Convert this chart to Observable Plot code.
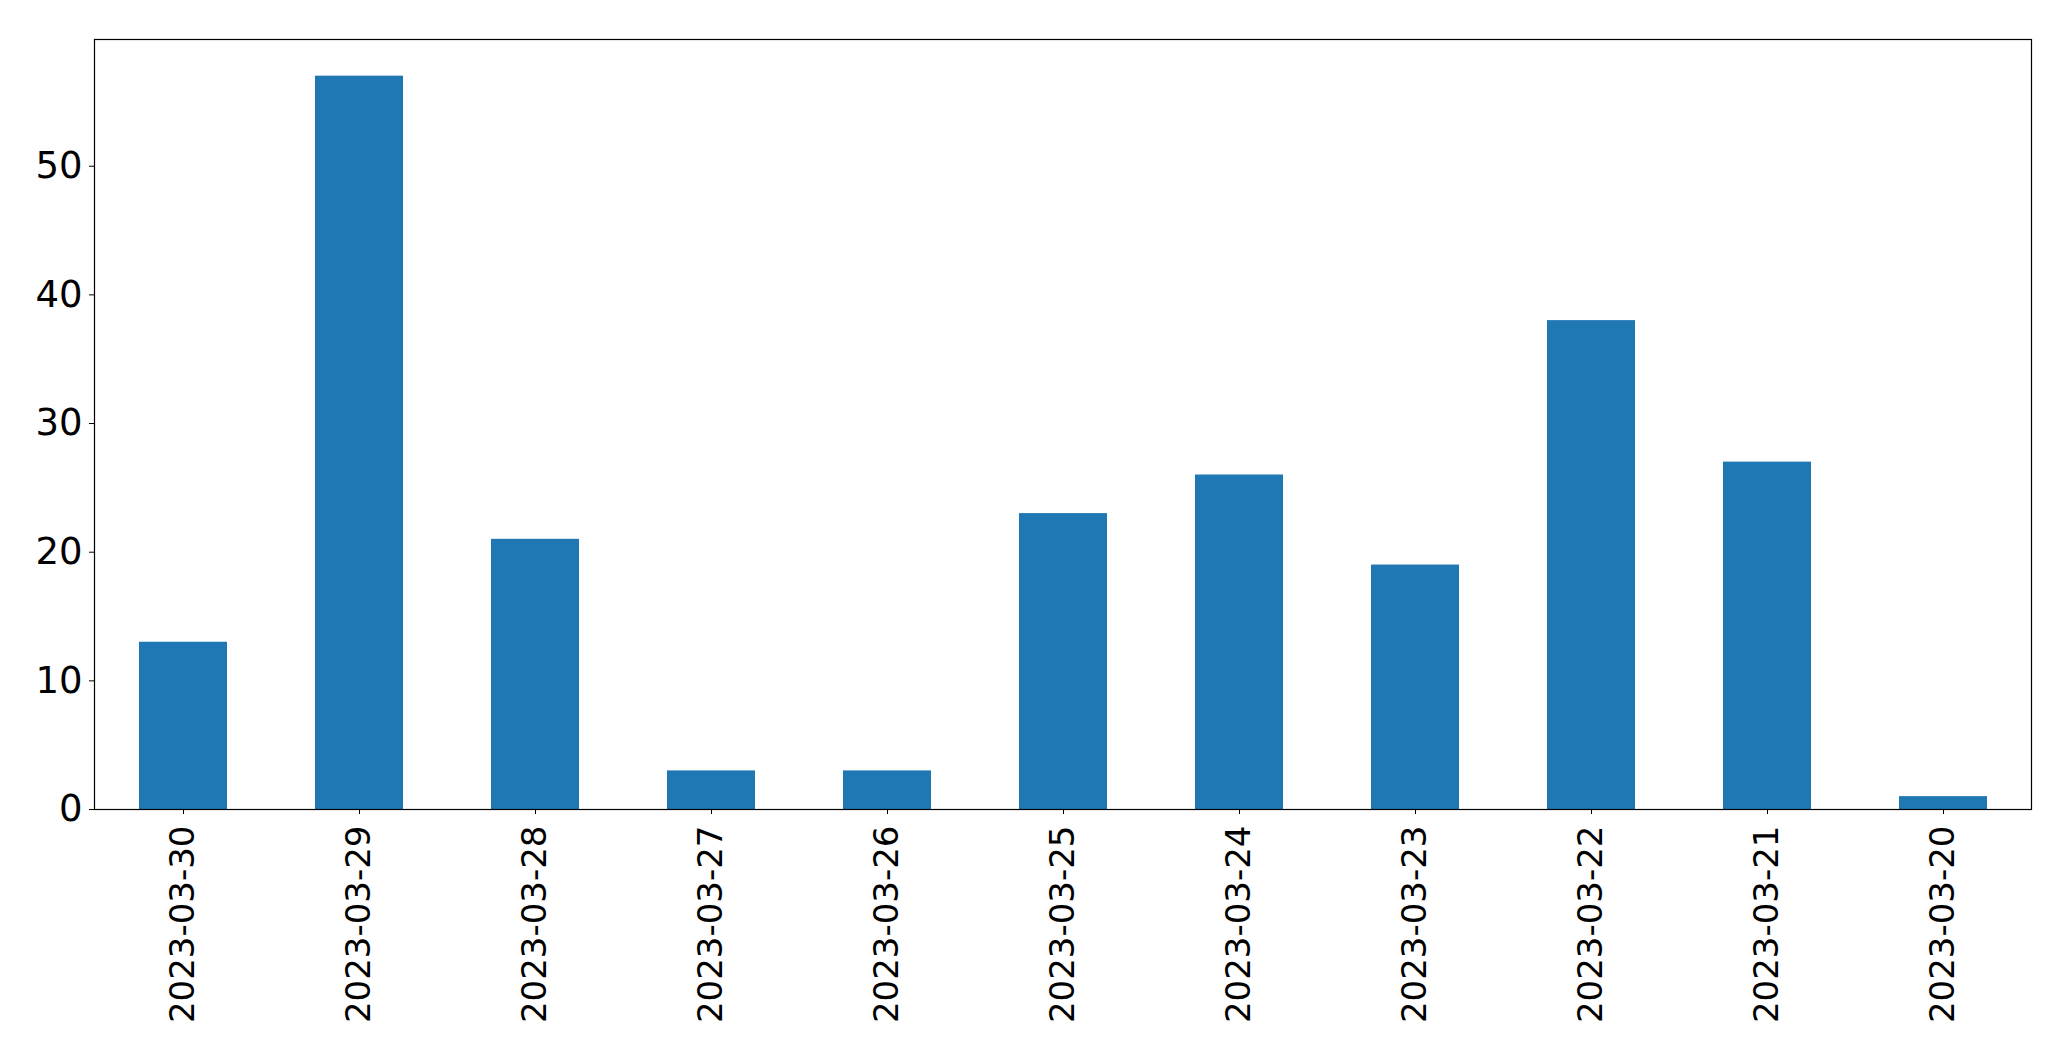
<!DOCTYPE html>
<html>
<head>
<meta charset="utf-8">
<script src="https://cdn.jsdelivr.net/npm/d3@7"></script>
<script src="https://cdn.jsdelivr.net/npm/@observablehq/plot@0.6"></script>
<style>
html, body { margin: 0; padding: 0; background: #fff; }
#chart svg { display: block; }
</style>
</head>
<body>
<div id="chart"></div>
<script>
const dates = ["2023-03-30","2023-03-29","2023-03-28","2023-03-27","2023-03-26","2023-03-25","2023-03-24","2023-03-23","2023-03-22","2023-03-21","2023-03-20"];
const counts = [13, 57, 21, 3, 3, 23, 26, 19, 38, 27, 1];
const yTicks = [0, 10, 20, 30, 40, 50];

const data = dates.map((d, i) => ({date: d, count: counts[i]}));

const chart = Plot.plot({
  width: 2071,
  height: 1061,
  marginLeft: 94,
  marginRight: 40,
  marginTop: 39,
  marginBottom: 252,
  style: {fontFamily: "DejaVu Sans", fontSize: "34px", color: "#000", background: "#fff"},
  x: {domain: dates, paddingInner: 0.5, paddingOuter: 0.25, label: null},
  y: {domain: [0, 59.85], label: null},
  marks: [
    Plot.barY(data, {x: "date", y: "count", fill: "#1f77b4"}),
    Plot.axisY({ticks: yTicks, tickSize: 5, tickPadding: 7, fontSize: 37, label: null}),
    Plot.axisX({tickSize: 5, tickPadding: 11, tickRotate: -90, fontSize: 34, label: null}),
    Plot.frame({stroke: "#000", strokeWidth: 1.2})
  ]
});
document.getElementById("chart").appendChild(chart);
</script>
</body>
</html>
